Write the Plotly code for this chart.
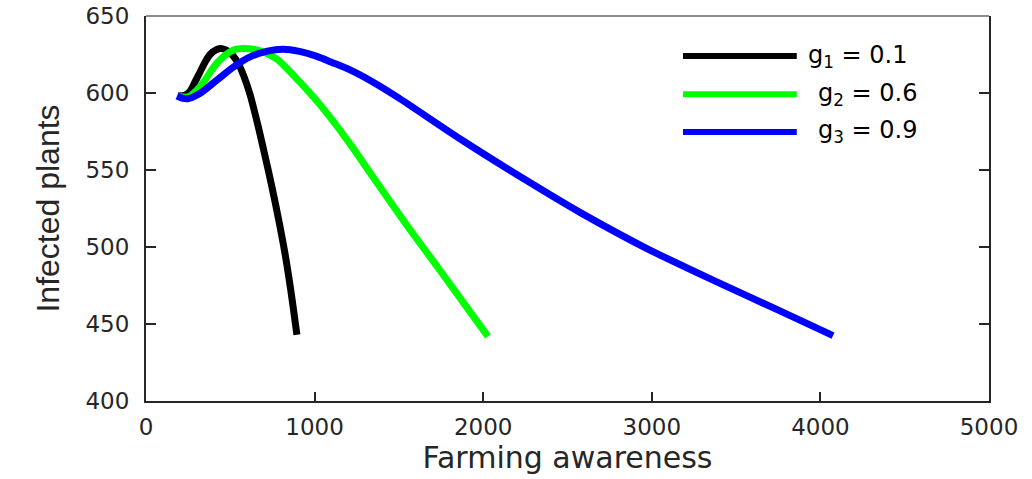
import plotly.graph_objects as go

# Series data (Farming awareness -> Infected plants)
x_g1 = [190, 230, 260, 290, 320, 350, 380, 420, 451, 490, 546, 580, 617, 664, 700, 747, 790, 824, 860, 895]
y_g1 = [598, 598.5, 601, 607, 613.5, 620, 625, 628.3, 628.8, 627, 619.5, 611, 599, 579, 562, 539, 516, 496, 471, 443]

x_g2 = [190, 250, 320, 421, 516, 610, 700, 777, 913, 1050, 1210, 1346, 1548, 1726, 2028]
y_g2 = [598, 597.5, 604, 619.5, 627.8, 628.8, 626.5, 622, 607, 590, 567, 545.5, 514, 487.5, 442]

x_g3 = [184, 220, 249, 290, 330, 421, 520, 617, 720, 813, 910, 1014, 1100, 1210, 1340, 1489, 1880, 2260, 2574, 2971, 3363, 3760, 4075]
y_g3 = [598, 596.5, 596.3, 598, 600.5, 608.4, 617, 623.5, 627.2, 628.4, 627, 623.8, 620, 615, 607.5, 597.5, 569, 543, 522.5, 499, 478.5, 458.5, 442.5]

series_names = ["g<sub>1</sub> = 0.1", "g<sub>2</sub> = 0.6", "g<sub>3</sub> = 0.9"]
series_colors = ["#000000", "#00ff00", "#0000ff"]

x_ticks = [0, 1000, 2000, 3000, 4000, 5000]
y_ticks = [400, 450, 500, 550, 600, 650]

axis_color = "#262626"
tick_font = dict(family="DejaVu Sans, Arial, sans-serif", size=23, color=axis_color)

fig = go.Figure()
for xs, ys, name, col in zip([x_g1, x_g2, x_g3], [y_g1, y_g2, y_g3], series_names, series_colors):
    fig.add_trace(go.Scatter(x=xs, y=ys, mode="lines", name=name,
                             line=dict(color=col, width=7, shape="spline", smoothing=0.8),
                             showlegend=False))

# manual legend (line samples + labels)
leg_y = [0.896, 0.797, 0.699]
leg_text_x = [0.783, 0.795, 0.795]
for name, col, yy, tx in zip(series_names, series_colors, leg_y, leg_text_x):
    fig.add_shape(type="line", xref="paper", yref="paper", x0=0.637, x1=0.772, y0=yy, y1=yy,
                  line=dict(color=col, width=6))
    fig.add_annotation(xref="paper", yref="paper", x=tx, y=yy, text=name, showarrow=False,
                       xanchor="left", yanchor="middle",
                       font=dict(family="DejaVu Sans, Arial, sans-serif", size=24, color="#000000"))

# top border
fig.add_shape(type="line", xref="paper", yref="paper", x0=0, x1=1, y0=1, y1=1,
              line=dict(color="#666666", width=1.5))

fig.update_layout(
    width=1032, height=479,
    margin=dict(l=146, r=43, t=16, b=78),
    paper_bgcolor="white", plot_bgcolor="white",
    xaxis=dict(range=[0, 5000], tickvals=x_ticks, ticks="inside", ticklen=9, tickwidth=1.5,
               tickcolor=axis_color, showline=True, linecolor=axis_color, linewidth=2,
               showgrid=False, zeroline=False, tickfont=tick_font, automargin=False,
               ticklabelstandoff=4,
               title=dict(text="Farming awareness", standoff=6,
                          font=dict(family="DejaVu Sans, Arial, sans-serif", size=30, color=axis_color))),
    yaxis=dict(range=[400, 650], tickvals=y_ticks, ticks="inside", ticklen=10, tickwidth=1.5,
               tickcolor=axis_color, showline=True, linecolor=axis_color, linewidth=2, mirror="ticks",
               showgrid=False, zeroline=False, tickfont=tick_font, automargin=False,
               ticklabelstandoff=10,
               title=dict(text="Infected plants", standoff=16,
                          font=dict(family="Liberation Sans Narrow, Arial Narrow, Arial, sans-serif", size=32, color=axis_color))),
)

fig.write_html("out.html")
